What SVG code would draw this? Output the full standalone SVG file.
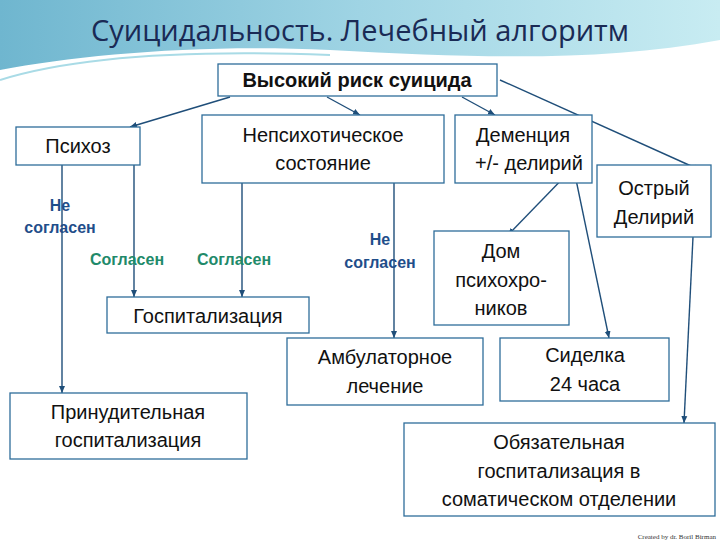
<svg xmlns="http://www.w3.org/2000/svg" width="720" height="540" viewBox="0 0 720 540">
<defs>
<linearGradient id="hg" x1="0" y1="0" x2="1" y2="0">
<stop offset="0" stop-color="#6fb6cf"/><stop offset="0.5" stop-color="#9fd4e4"/><stop offset="1" stop-color="#c8ecf2"/>
</linearGradient>
<marker id="ar" markerWidth="8" markerHeight="8" refX="7" refY="4" orient="auto" markerUnits="userSpaceOnUse">
<path d="M0,1 L7,4 L0,7 z" fill="#1f4e79"/>
</marker>
<style>
.b{fill:#fff;stroke:#2e6d9a;stroke-width:1.3}
.t{font-family:"Liberation Sans",Arial,sans-serif;font-size:20px;fill:#111;text-anchor:middle}
.c{stroke:#1f4e79;stroke-width:1.4;fill:none;marker-end:url(#ar)}
.lb{font-family:"Liberation Sans",Arial,sans-serif;font-size:16px;font-weight:bold;fill:#1f4e8a;text-anchor:middle}
.lg{font-family:"Liberation Sans",Arial,sans-serif;font-size:16px;font-weight:bold;fill:#1f8a6a;text-anchor:middle}
</style>
</defs>
<rect width="720" height="540" fill="#fff"/>
<path d="M0,0 H720 V40 C600,62 480,58 330,50 C200,44 80,55 0,70 Z" fill="url(#hg)"/>
<path d="M0,80 C80,55 200,50 330,55" stroke="#a9dbe6" stroke-width="2" fill="none"/>
<text x="360" y="41" font-family="'Open Sans','DejaVu Sans',sans-serif" font-size="29" fill="#1a2a55" text-anchor="middle">Суицидальность. Лечебный алгоритм</text>
<g id="connectors">
<path class="c" d="M230,97 L130,127"/>
<path class="c" d="M327,97 L360,115"/>
<path class="c" d="M462,97 L495,115"/>
<path class="c" d="M500,80 L700,170"/>
<path class="c" d="M62,165 L62,393"/>
<path class="c" d="M134,165 L134,297"/>
<path class="c" d="M242,183 L242,297"/>
<path class="c" d="M394,183 L394,338"/>
<path class="c" d="M571,170 L508,235"/>
<path class="c" d="M574,170 L609,338"/>
<path class="c" d="M693,237 L684,423"/>
</g>
<g id="top"><rect class="b" x="218" y="64" width="279" height="32"/><text class="t" x="357" y="87" font-weight="bold" font-size="18">Высокий риск суицида</text></g>
<g id="psychosis"><rect class="b" x="16" y="127" width="124" height="38"/><text class="t" x="78" y="153">Психоз</text></g>
<g id="nonpsych"><rect class="b" x="202" y="115" width="242" height="68"/><text class="t" x="323" y="142">Непсихотическое</text><text class="t" x="323" y="170">состояние</text></g>
<g id="dementia"><rect class="b" x="455" y="115" width="137" height="68"/><text class="t" x="523" y="142">Деменция</text><text class="t" x="529" y="170">+/- делирий</text></g>
<g id="delirium"><rect class="b" x="597" y="165" width="114" height="72"/><text class="t" x="654" y="195">Острый</text><text class="t" x="654" y="224">Делирий</text></g>
<g id="home"><rect class="b" x="434" y="231" width="135" height="94"/><text class="t" x="501" y="258">Дом</text><text class="t" x="501" y="287">психохро-</text><text class="t" x="501" y="315">ников</text></g>
<g id="hosp"><rect class="b" x="107" y="297" width="202" height="36"/><text class="t" x="208" y="323">Госпитализация</text></g>
<g id="ambul"><rect class="b" x="287" y="338" width="196" height="67"/><text class="t" x="385" y="364">Амбулаторное</text><text class="t" x="385" y="393">лечение</text></g>
<g id="nurse"><rect class="b" x="500" y="338" width="169" height="63"/><text class="t" x="585" y="362">Сиделка</text><text class="t" x="585" y="391">24 часа</text></g>
<g id="forced"><rect class="b" x="10" y="393" width="237" height="66"/><text class="t" x="128" y="419">Принудительная</text><text class="t" x="128" y="447">госпитализация</text></g>
<g id="somatic"><rect class="b" x="404" y="423" width="311" height="93"/><text class="t" x="559" y="449">Обязательная</text><text class="t" x="559" y="478">госпитализация в</text><text class="t" x="559" y="506">соматическом отделении</text></g>
<g id="labels">
<text class="lb" x="60" y="211">Не</text><text class="lb" x="60" y="233">согласен</text>
<text class="lg" x="127" y="265">Согласен</text><text class="lg" x="234" y="265">Согласен</text>
<text class="lb" x="380" y="245">Не</text><text class="lb" x="380" y="268">согласен</text>
</g>
<text x="716" y="539" font-family="'Liberation Serif',serif" font-size="7" fill="#333" text-anchor="end">Created by dr. Boril Birman</text>
</svg>
